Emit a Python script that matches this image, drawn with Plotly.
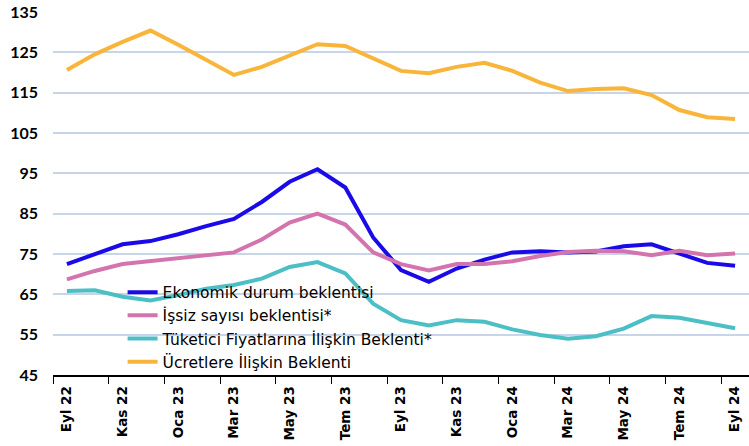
import plotly.graph_objects as go

months = ['Eyl 22', 'Eki 22', 'Kas 22', 'Ara 22', 'Oca 23', 'Şub 23', 'Mar 23', 'Nis 23', 'May 23',
          'Haz 23', 'Tem 23', 'Ağu 23', 'Eyl 23', 'Eki 23', 'Kas 23', 'Ara 23', 'Oca 24', 'Şub 24',
          'Mar 24', 'Nis 24', 'May 24', 'Haz 24', 'Tem 24', 'Ağu 24', 'Eyl 24']

ekonomik = [72.5, 74.9, 77.4, 78.2, 79.9, 81.9, 83.7, 87.9, 92.9, 96.0, 91.5, 79.1, 71.0,
            68.1, 71.4, 73.6, 75.4, 75.7, 75.4, 75.6, 76.9, 77.4, 75.1, 72.8, 72.1]
issiz = [68.7, 70.8, 72.5, 73.2, 73.9, 74.7, 75.4, 78.6, 82.8, 85.0, 82.3, 75.4, 72.5,
         70.9, 72.5, 72.5, 73.2, 74.5, 75.5, 75.8, 75.7, 74.7, 75.8, 74.7, 75.1]
tuketici = [65.8, 66.0, 64.4, 63.5, 64.8, 66.4, 67.3, 68.9, 71.8, 73.0, 70.2, 62.7, 58.6,
            57.3, 58.6, 58.2, 56.3, 54.9, 54.0, 54.6, 56.5, 59.6, 59.2, 57.9, 56.6]
ucret = [120.6, 124.5, 127.6, 130.4, 126.9, 123.1, 119.4, 121.4, 124.1, 127.0, 126.6, 123.6, 120.4,
         119.8, 121.4, 122.4, 120.4, 117.5, 115.4, 115.9, 116.1, 114.4, 110.7, 108.9, 108.5]

series = [
    ('Ekonomik durum beklentisi', ekonomik, '#1a0ae8'),
    ('İşsiz sayısı beklentisi*', issiz, '#d474ae'),
    ('Tüketici Fiyatlarına İlişkin Beklenti*', tuketici, '#4cbfc6'),
    ('Ücretlere İlişkin Beklenti', ucret, '#f9b43a'),
]

fig = go.Figure()
for name, vals, color in series:
    fig.add_trace(go.Scatter(
        x=months, y=vals,
        mode='lines',
        name=name,
        line=dict(color=color, width=4)
    ))

fig.update_layout(
    width=749, height=446,
    paper_bgcolor='white',
    plot_bgcolor='white',
    margin=dict(l=53, r=0, t=12, b=71),
    font=dict(family='Lato', color='black'),
    legend=dict(
        x=0.1, y=-0.01, xanchor='left', yanchor='bottom',
        bgcolor='rgba(0,0,0,0)',
        font=dict(family='DejaVu Sans', size=15.5, color='black'),
        tracegroupgap=0,
    ),
    xaxis=dict(
        type='category',
        tickmode='linear', dtick=2,
        tickson='boundaries',
        ticks='outside', ticklen=7, tickcolor='black',
        tickangle=-90,
        tickfont=dict(family='DejaVu Sans', size=13.5, weight='bold'),
        ticklabelstandoff=4,
        showgrid=False,
        showline=True, linecolor='black', linewidth=1.5,
        range=[-0.5, 24.5],
        automargin=False,
    ),
    yaxis=dict(
        range=[45, 135], tick0=45, dtick=10,
        showgrid=True, gridcolor='#c8d4e8', gridwidth=1.5,
        zeroline=False,
        tickfont=dict(size=16, weight='bold'),
        ticks='', ticklabelstandoff=14,
        automargin=False,
    ),
)

# the page's default 8px body margin would shift the chart
fig.write_html('out.html', config={'displayModeBar': False},
               post_script="document.body.style.margin='0';")
